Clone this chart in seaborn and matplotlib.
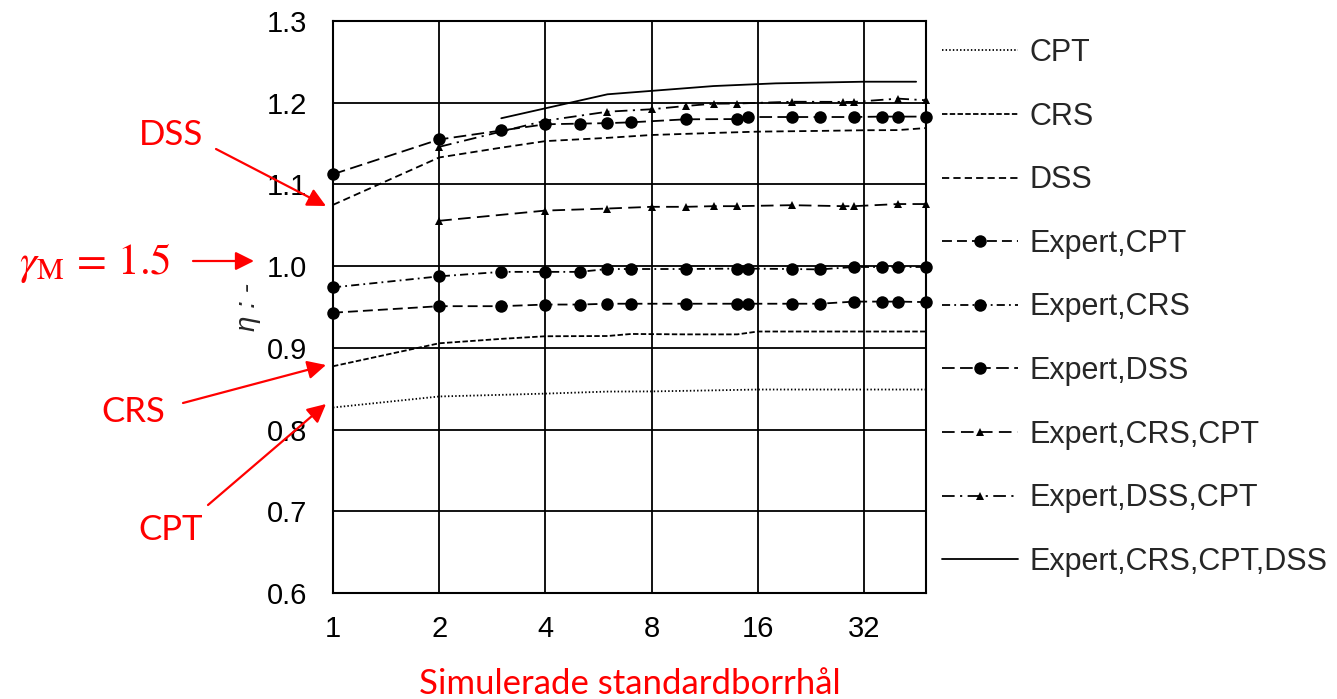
import matplotlib
matplotlib.use("Agg")
import matplotlib.pyplot as plt
import seaborn as sns

# number of simulated standard boreholes
x_cpt = [1, 2, 3, 4, 6, 8, 12, 16, 32, 48]
y_cpt = [0.827, 0.8405, 0.8425, 0.844, 0.8465, 0.8467, 0.848, 0.849, 0.849, 0.849]

x_crs = [1, 2, 3, 4, 6, 7, 10, 14, 16, 20, 30, 48]
y_crs = [0.8775, 0.9056, 0.911, 0.9142, 0.9145, 0.917, 0.9165, 0.9165, 0.920, 0.920, 0.920, 0.920]

x_dss = [1, 2, 3, 4, 6, 8, 12, 16, 24, 32, 40, 48]
y_dss = [1.075, 1.133, 1.145, 1.153, 1.157, 1.1605, 1.163, 1.1646, 1.1655, 1.1663, 1.1665, 1.169]

x_circ = [1, 2, 3, 4, 5, 6, 7, 10, 14, 15, 20, 24, 30, 36, 40, 48]
y_exp_cpt = [0.943, 0.951, 0.951, 0.953, 0.953, 0.954, 0.954, 0.954, 0.954, 0.954,
             0.954, 0.954, 0.9566, 0.9566, 0.9566, 0.956]
y_exp_crs = [0.974, 0.9875, 0.993, 0.993, 0.993, 0.9965, 0.9965, 0.9965, 0.997, 0.997,
             0.9965, 0.996, 0.999, 0.999, 0.999, 0.999]
y_exp_dss = [1.1125, 1.155, 1.166, 1.1736, 1.1744, 1.175, 1.176, 1.1797, 1.18, 1.1825,
             1.1825, 1.1825, 1.1825, 1.183, 1.183, 1.183]

x_tri = [2, 4, 6, 8, 10, 12, 14, 20, 28, 30, 40, 48]
y_exp_crs_cpt = [1.0555, 1.068, 1.0705, 1.0726, 1.0726, 1.0734, 1.0734, 1.0746,
                 1.0734, 1.0734, 1.076, 1.076]
y_exp_dss_cpt = [1.146, 1.178, 1.189, 1.192, 1.196, 1.1988, 1.199, 1.2012,
                 1.201, 1.201, 1.205, 1.203]

x_all = [3, 6, 12, 18, 32, 45]
y_all = [1.181, 1.2103, 1.2204, 1.2237, 1.2257, 1.2257]

x_ticks = [1, 2, 4, 8, 16, 32]
y_ticks = [0.6, 0.7, 0.8, 0.9, 1.0, 1.1, 1.2, 1.3]

sns.set_style("white")
plt.rcParams['font.family'] = ['Liberation Sans', 'DejaVu Sans']
plt.rcParams['mathtext.fontset'] = 'stix'

fig = plt.figure(figsize=(13.37, 6.99), dpi=100)
ax = fig.add_axes([333 / 1337, 1 - 593 / 699, (926 - 333) / 1337, (593 - 21) / 699])

lw = 1.3
series = [
    (x_cpt, y_cpt, "CPT", (0, (0.8, 1.2)), None, 0),
    (x_crs, y_crs, "CRS", (0, (3, 1.3)), None, 0),
    (x_dss, y_dss, "DSS", (0, (4, 2.3)), None, 0),
    (x_circ, y_exp_cpt, "Expert,CPT", (0, (5.5, 2.8)), "o", 9),
    (x_circ, y_exp_crs, "Expert,CRS", (0, (4.5, 2.3, 1, 2.3)), "o", 9),
    (x_circ, y_exp_dss, "Expert,DSS", (0, (7, 3)), "o", 9),
    (x_tri, y_exp_crs_cpt, "Expert,CRS,CPT", (0, (7, 3.5)), "^", 6),
    (x_tri, y_exp_dss_cpt, "Expert,DSS,CPT", (0, (7, 3, 1.2, 3)), "^", 6),
    (x_all, y_all, "Expert,CRS,CPT,DSS", "-", None, 0),
]
for xs, ys, name, ls, mk, ms in series:
    sns.lineplot(x=xs, y=ys, ax=ax, color="black", linestyle=ls, linewidth=lw,
                 marker=mk, markersize=ms, markeredgewidth=0, label=name,
                 clip_on=False)

ax.set_xscale("log", base=2)
ax.set_xlim(1, 48)
ax.set_ylim(0.6, 1.3)
ax.set_xticks(x_ticks)
ax.set_xticklabels([str(t) for t in x_ticks])
ax.minorticks_off()
ax.set_yticks(y_ticks)
ax.set_yticklabels([f"{t:.1f}" for t in y_ticks])
ax.tick_params(axis="both", direction="inout", length=11, width=1.3, labelsize=21,
               colors="black")
ax.tick_params(axis="y", pad=13)
ax.tick_params(axis="x", pad=10)
ax.grid(True, color="black", linewidth=1.3)
for s in ax.spines.values():
    s.set_color("black")
    s.set_linewidth(1.5)

ax.set_ylabel("η : -", fontsize=20, style="italic", labelpad=4)
ax.set_xlabel("Simulerade standardborrhål", fontsize=25, color="red",
              family=["Lato", "DejaVu Sans"], labelpad=18)

ax.legend(loc="upper left", bbox_to_anchor=(942 / 1337, 1 - 38 / 699),
          bbox_transform=fig.transFigure, frameon=False, borderaxespad=0,
          borderpad=0, fontsize=22, handlelength=2.5, handletextpad=0.36,
          labelspacing=1.1)

# red annotations on the left
red = "#ff0000"
arrow = dict(arrowstyle="-|>", color=red, lw=1.6, mutation_scale=28,
             shrinkA=0, shrinkB=0)
notes = [
    ("DSS", (171, 564), (216, 550), (326, 493), 25),
    (r"$\gamma_{\mathrm{M}}\, =\, 1.5$", (95, 436), (193, 438), (254, 438), 31),
    ("CRS", (133, 287), (183, 296), (326, 334), 25),
    ("CPT", (171, 169), (208, 194), (326, 295), 25),
]
for txt, pos, start, tip, fs in notes:
    fig.text(pos[0] / 1337, pos[1] / 699, txt, color=red, fontsize=fs,
             ha="center", va="center", family=["Lato", "DejaVu Sans"])
    ax.annotate("", xy=tip, xytext=start, xycoords="figure pixels",
                textcoords="figure pixels", arrowprops=arrow,
                annotation_clip=False)

fig.savefig("out.png", dpi=100)
